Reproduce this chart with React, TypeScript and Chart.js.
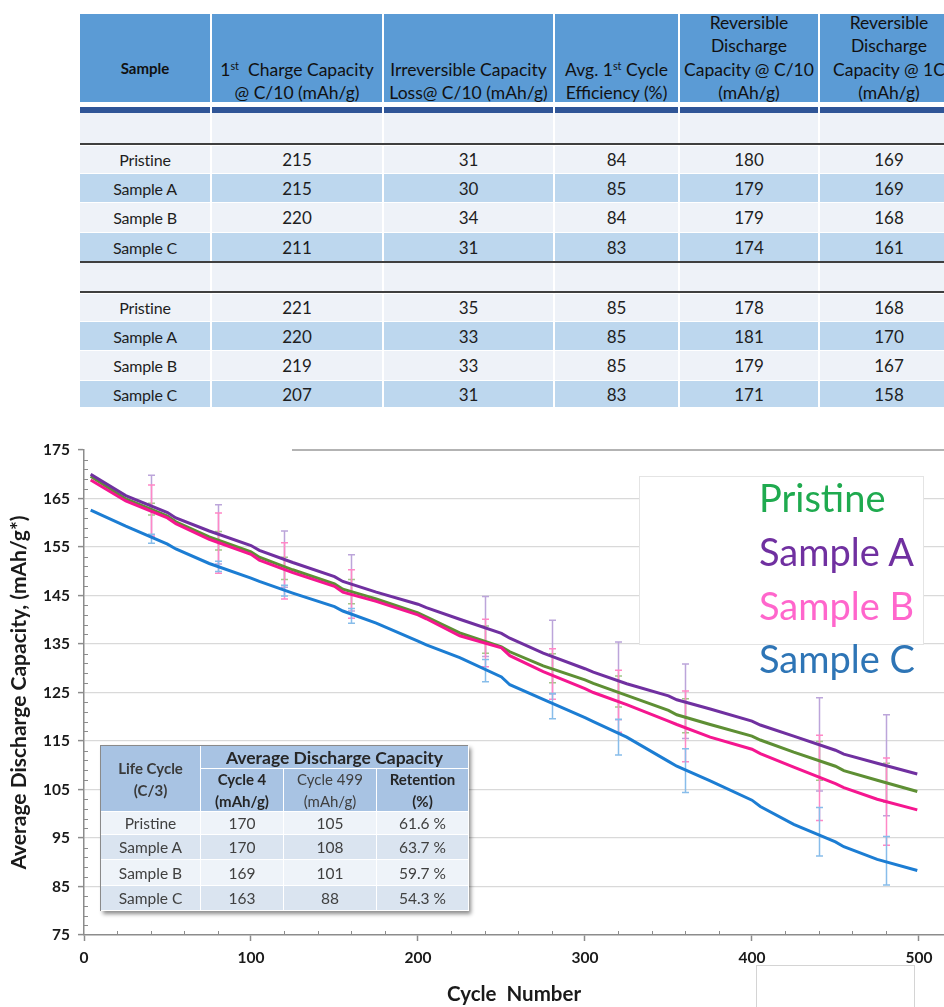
import React, { useEffect, useRef } from "react";
import { Chart, registerables } from "chart.js";

Chart.register(...registerables);

// ---------- Chart data ----------
const cycles = [4, 25, 50, 55, 75, 100, 105, 125, 150, 155, 175, 200, 205, 225, 250, 255, 275, 300, 305, 325, 350, 355, 375, 400, 405, 425, 450, 455, 475, 499];
const pristine = [169.6, 164.9, 161.4, 160.2, 157.1, 154.0, 152.9, 150.3, 147.4, 146.3, 144.3, 141.4, 140.6, 137.3, 134.4, 133.4, 130.5, 127.6, 126.9, 124.4, 121.3, 120.4, 118.4, 116.0, 115.2, 112.7, 109.8, 108.9, 106.9, 104.6];
const sampleA = [170.0, 165.6, 162.1, 161.0, 158.3, 155.3, 154.3, 151.8, 148.9, 147.9, 145.7, 143.2, 142.5, 140.1, 137.2, 136.2, 133.1, 129.9, 129.2, 126.8, 124.3, 123.5, 121.6, 119.1, 118.3, 116.0, 113.1, 112.3, 110.4, 108.2];
const sampleB = [168.8, 164.5, 161.0, 159.8, 156.6, 153.5, 152.3, 149.7, 146.9, 145.7, 143.8, 141.0, 140.2, 136.7, 134.2, 132.6, 129.3, 125.8, 125.0, 122.5, 119.1, 118.4, 115.8, 113.3, 112.4, 109.6, 106.2, 105.4, 103.0, 100.8];
const sampleC = [162.6, 159.3, 155.6, 154.6, 151.6, 148.6, 147.9, 145.5, 142.7, 141.8, 139.3, 135.6, 134.8, 132.2, 128.2, 126.6, 123.6, 119.8, 119.0, 115.8, 110.8, 109.8, 106.8, 102.8, 101.5, 97.8, 94.2, 93.2, 90.6, 88.3];

const errCycles = [40, 80, 120, 160, 240, 280, 320, 360, 440, 480];
const pristineErrMean = [162.8, 156.3, 150.6, 145.8, 135.9, 130.0, 125.2, 120.2, 110.9, 106.4];
const pristineErr = [1.2, 1.9, 2.3, 2.5, 2.8, 3.0, 3.2, 3.5, 4.0, 4.0];
const sampleAErrMean = [163.5, 157.6, 152.5, 147.6, 138.6, 132.3, 127.4, 123.2, 114.3, 110.0];
const sampleAErr = [6.3, 6.1, 5.8, 5.8, 6.2, 7.6, 8.0, 7.7, 9.6, 10.4];
const sampleBErrMean = [162.5, 155.8, 150.1, 145.3, 135.2, 128.8, 123.2, 118.0, 107.4, 102.5];
const sampleBErr = [5.3, 6.2, 5.8, 5.0, 4.9, 5.2, 6.4, 7.3, 8.8, 9.0];
const sampleCErrMean = [156.7, 151.0, 146.0, 140.8, 129.5, 122.2, 115.8, 108.9, 96.3, 90.3];
const sampleCErr = [0.95, 1.05, 1.1, 1.5, 2.3, 2.6, 3.7, 4.5, 5.0, 5.0];

const xTicks = [0, 100, 200, 300, 400, 500];
const yTicks = [75, 85, 95, 105, 115, 125, 135, 145, 155, 165, 175];

const seriesNames = ["Pristine", "Sample A", "Sample B", "Sample C"];
const lineColors = ["#5e8f34", "#7030a0", "#f5168f", "#1c7dd3"];
const errColors = ["#a3c68a", "#bca5da", "#ff88c6", "#88bdea"];
const legendColors = ["#1faa4f", "#7030a0", "#ff66cc", "#2e75b6"];

// ---------- Top table data ----------
const tableSamples = ["Pristine", "Sample A", "Sample B", "Sample C"];
const chargeCap1 = [215, 215, 220, 211];
const irrLoss1 = [31, 30, 34, 31];
const eff1 = [84, 85, 84, 83];
const revC10_1 = [180, 179, 179, 174];
const rev1C_1 = [169, 169, 168, 161];
const chargeCap2 = [221, 220, 219, 207];
const irrLoss2 = [35, 33, 33, 31];
const eff2 = [85, 85, 85, 83];
const revC10_2 = [178, 181, 179, 171];
const rev1C_2 = [168, 170, 167, 158];

const headerLines = [
  ["Sample"],
  ["1{st}\u00a0 Charge Capacity", "@ C/10 (mAh/g)"],
  ["Irreversible Capacity", "Loss@ C/10 (mAh/g)"],
  ["Avg. 1{st} Cycle", "Efficiency (%)"],
  ["Reversible", "Discharge", "Capacity @ C/10", "(mAh/g)"],
  ["Reversible", "Discharge", "Capacity @ 1C", "(mAh/g)"],
];

// ---------- Inner table data ----------
const cycle4 = [170, 170, 169, 163];
const cycle499 = [105, 108, 101, 88];
const retention = ["61.6 %", "63.7 %", "59.7 %", "54.3 %"];

const FONT = "Lato, 'Open Sans', sans-serif";

function renderLine(s: string) {
  const parts = s.split("{st}");
  if (parts.length === 1) return s;
  return (
    <>
      {parts[0]}
      <sup style={{ fontSize: "0.62em", lineHeight: 0, verticalAlign: "0.55em" }}>st</sup>
      {parts[1]}
    </>
  );
}

const colLeft = [0, 132, 304, 475, 600, 740];
const colW = [132, 172, 171, 125, 140, 140];
const LIGHT = "#eef2f8";
const BLUE = "#bdd7ee";

function GapRow({ top, h, bg }: { top: number; h: number; bg: string }) {
  return (
    <>
      {colW.map((w, i) => (
        <div key={i} style={{ position: "absolute", left: colLeft[i], top, width: w - 2, height: h, background: bg }} />
      ))}
    </>
  );
}

function DataRow({ top, h, bg, vals }: { top: number; h: number; bg: string; vals: (string | number)[] }) {
  return (
    <>
      {colW.map((w, i) => (
        <div
          key={i}
          style={{
            position: "absolute",
            left: colLeft[i],
            top,
            width: w - 2,
            height: h,
            background: bg,
            display: "flex",
            alignItems: "center",
            justifyContent: "center",
            fontSize: i === 0 ? 16 : 17,
            color: "#1e1e1e",
            letterSpacing: i === 0 ? -0.2 : 0,
          }}
        >
          {vals[i]}
        </div>
      ))}
    </>
  );
}

function TopTable() {
  const block1Tops = [146, 174, 203, 233];
  const block1H = [27, 28, 29, 28];
  const block2Tops = [294, 322, 351, 381];
  const block2H = [27, 28, 29, 26];
  const bgs = [LIGHT, BLUE, LIGHT, BLUE];
  const row1 = (i: number) => [tableSamples[i], chargeCap1[i], irrLoss1[i], eff1[i], revC10_1[i], rev1C_1[i]];
  const row2 = (i: number) => [tableSamples[i], chargeCap2[i], irrLoss2[i], eff2[i], revC10_2[i], rev1C_2[i]];
  return (
    <div style={{ position: "absolute", left: 80, top: 0, width: 880, height: 410, fontFamily: FONT }}>
      {colW.map((w, i) => (
        <div
          key={i}
          style={{
            position: "absolute",
            left: colLeft[i],
            top: 14,
            width: w - 2,
            height: 88,
            background: "#5b9bd5",
            color: "#111111",
          }}
        >
          <div
            style={{
              position: "absolute",
              left: 0,
              right: 0,
              bottom: i === 0 ? 21 : -3,
              textAlign: "center",
              lineHeight: "23.6px",
              fontSize: i === 0 ? 15 : 17.5,
              fontWeight: i === 0 ? 700 : 400,
              whiteSpace: "nowrap",
            }}
          >
            {headerLines[i].map((l, j) => (
              <div key={j}>{renderLine(l)}</div>
            ))}
          </div>
        </div>
      ))}
      <GapRow top={107} h={6} bg="#2f5597" />
      <GapRow top={113} h={30} bg={LIGHT} />
      <div style={{ position: "absolute", left: 0, top: 143, width: 880, height: 2, background: "#3f3f3f" }} />
      {block1Tops.map((t, i) => (
        <DataRow key={"a" + i} top={t} h={block1H[i]} bg={bgs[i]} vals={row1(i)} />
      ))}
      <div style={{ position: "absolute", left: 0, top: 261, width: 880, height: 2, background: "#3f3f3f" }} />
      <GapRow top={263} h={28} bg={LIGHT} />
      <div style={{ position: "absolute", left: 0, top: 291, width: 880, height: 2, background: "#3f3f3f" }} />
      {block2Tops.map((t, i) => (
        <DataRow key={"b" + i} top={t} h={block2H[i]} bg={bgs[i]} vals={row2(i)} />
      ))}
    </div>
  );
}

function InnerTable() {
  const hdrBg = "#a8c3e3";
  const rowBgs = ["#eef3f9", "#dae4f0", "#eef3f9", "#dae4f0"];
  const rowH = [23, 25, 26, 25];
  const colWs = [100, 83, 93, 92];
  const cell = (extra: React.CSSProperties): React.CSSProperties => ({
    display: "flex",
    flexDirection: "column",
    alignItems: "center",
    justifyContent: "center",
    boxSizing: "border-box",
    borderRight: "1px solid #ffffff",
    borderBottom: "1px solid #ffffff",
    ...extra,
  });
  return (
    <div
      style={{
        position: "absolute",
        left: 100,
        top: 745,
        width: 368,
        height: 166,
        boxSizing: "border-box",
        border: "1px solid #8a8a8a",
        boxShadow: "3px 3px 4px rgba(0,0,0,0.45)",
        fontFamily: FONT,
        display: "grid",
        gridTemplateColumns: colWs.map((w) => w + "px").join(" "),
        gridTemplateRows: ["23px", "43px", ...rowH.map((h) => h + "px")].join(" "),
        background: "#fff",
      }}
    >
      <div style={cell({ gridRow: "1 / 3", gridColumn: "1", background: hdrBg, color: "#3a3a3a", fontWeight: 700, fontSize: 15, lineHeight: "22px" })}>
        <div>Life Cycle</div>
        <div>(C/3)</div>
      </div>
      <div style={cell({ gridRow: "1", gridColumn: "2 / 5", background: hdrBg, color: "#262626", fontWeight: 700, fontSize: 17.5 })}>
        Average Discharge Capacity
      </div>
      <div style={cell({ gridRow: "2", gridColumn: "2", background: hdrBg, color: "#262626", fontWeight: 700, fontSize: 15, lineHeight: "22px" })}>
        <div>Cycle 4</div>
        <div>(mAh/g)</div>
      </div>
      <div style={cell({ gridRow: "2", gridColumn: "3", background: hdrBg, color: "#404040", fontWeight: 400, fontSize: 15, lineHeight: "22px" })}>
        <div>Cycle 499</div>
        <div>(mAh/g)</div>
      </div>
      <div style={cell({ gridRow: "2", gridColumn: "4", background: hdrBg, color: "#262626", fontWeight: 700, fontSize: 15, lineHeight: "22px" })}>
        <div>Retention</div>
        <div>(%)</div>
      </div>
      {tableSamples.map((s, i) => (
        <React.Fragment key={i}>
          {[s, cycle4[i], cycle499[i], retention[i]].map((v, j) => (
            <div key={j} style={cell({ background: rowBgs[i], color: "#404040", fontSize: 15.5 })}>
              {v}
            </div>
          ))}
        </React.Fragment>
      ))}
    </div>
  );
}

function LifeChart() {
  const ref = useRef<HTMLCanvasElement>(null);
  useEffect(() => {
    if (!ref.current) return;
    const seriesY = [pristine, sampleA, sampleB, sampleC];
    const errMeans = [pristineErrMean, sampleAErrMean, sampleBErrMean, sampleCErrMean];
    const errs = [pristineErr, sampleAErr, sampleBErr, sampleCErr];
    const drawOrder = [2, 0, 1, 3];
    const errDrawSeq = [1, 0, 2, 3];

    const errorBars = {
      id: "errorBars",
      beforeDatasetsDraw(chart: any) {
        const { ctx, scales } = chart;
        const x = scales.x;
        const y = scales.y;
        ctx.save();
        ctx.lineWidth = 1.5;
        errDrawSeq.forEach((s) => {
          ctx.strokeStyle = errColors[s];
          errCycles.forEach((c, i) => {
            const px = Math.round(x.getPixelForValue(c)) + 0.5;
            const top = y.getPixelForValue(errMeans[s][i] + errs[s][i]);
            const bot = y.getPixelForValue(errMeans[s][i] - errs[s][i]);
            ctx.beginPath();
            ctx.moveTo(px, top);
            ctx.lineTo(px, bot);
            ctx.moveTo(px - 3.5, top);
            ctx.lineTo(px + 3.5, top);
            ctx.moveTo(px - 3.5, bot);
            ctx.lineTo(px + 3.5, bot);
            ctx.stroke();
          });
        });
        ctx.restore();
      },
    };

    const minorTicks = {
      id: "minorTicks",
      afterDraw(chart: any) {
        const { ctx, scales, chartArea } = chart;
        const x = scales.x;
        const y = scales.y;
        ctx.save();
        ctx.strokeStyle = "#8c8c8c";
        ctx.lineWidth = 1;
        for (let v = 75; v <= 175; v += 2) {
          if ((v - 75) % 10 === 0) continue;
          const py = Math.round(y.getPixelForValue(v)) + 0.5;
          ctx.beginPath();
          ctx.moveTo(chartArea.left, py);
          ctx.lineTo(chartArea.left + 4, py);
          ctx.stroke();
        }
        for (let v = 20; v <= 500; v += 20) {
          if (v % 100 === 0) continue;
          const px = Math.round(x.getPixelForValue(v)) + 0.5;
          ctx.beginPath();
          ctx.moveTo(px, chartArea.bottom);
          ctx.lineTo(px, chartArea.bottom - 4);
          ctx.stroke();
        }
        ctx.restore();
      },
    };

    const chart = new Chart(ref.current, {
      type: "line",
      data: {
        datasets: seriesNames.map((name, s) => ({
          label: name,
          data: cycles.map((c, i) => ({ x: c, y: seriesY[s][i] })),
          borderColor: lineColors[s],
          backgroundColor: lineColors[s],
          borderWidth: 3,
          pointRadius: 0,
          tension: 0,
          fill: false,
          order: drawOrder[s],
        })),
      },
      options: {
        animation: false,
        responsive: false,
        maintainAspectRatio: false,
        layout: { padding: { top: 20, left: 0, right: 0, bottom: 0 } },
        plugins: { legend: { display: false }, tooltip: { enabled: false } },
        scales: {
          x: {
            type: "linear",
            min: 0,
            max: 515,
            afterBuildTicks: (s: any) => {
              s.ticks = xTicks.map((v) => ({ value: v }));
            },
            afterFit: (s: any) => {
              s.height = 72;
            },
            border: { color: "#8c8c8c", width: 1.5 },
            grid: { drawOnChartArea: false, drawTicks: true, tickLength: 6, tickColor: "#8c8c8c", tickWidth: 1.5 },
            ticks: { padding: 8, color: "#1a1a1a", font: { family: FONT, weight: "bold", size: 15.5 }, maxRotation: 0, autoSkip: false },
            title: {
              display: true,
              text: "Cycle  Number",
              color: "#1a1a1a",
              font: { family: FONT, weight: "bold", size: 20.5 },
              padding: { top: 0, bottom: 0 },
            },
          },
          y: {
            type: "linear",
            min: 75,
            max: 175,
            afterBuildTicks: (s: any) => {
              s.ticks = yTicks.map((v) => ({ value: v }));
            },
            afterFit: (s: any) => {
              s.width = 84;
            },
            border: { color: "#8c8c8c", width: 1.5 },
            grid: {
              color: (c: any) => (c.tick && (c.tick.value === 175 || c.tick.value === 75) ? "rgba(0,0,0,0)" : "#d9d9d9"),
              lineWidth: 1.2,
              drawTicks: true,
              tickLength: 6,
              tickColor: "#8c8c8c",
              tickWidth: 1.5,
            },
            ticks: { padding: 8, color: "#1a1a1a", font: { family: FONT, weight: "bold", size: 15.5 }, autoSkip: false },
            title: {
              display: true,
              text: "Average Discharge Capacity, (mAh/g*)",
              color: "#1a1a1a",
              font: { family: FONT, weight: "bold", size: 21 },
              padding: { top: 7, bottom: 0 },
            },
          },
        },
      },
      plugins: [errorBars, minorTicks],
    } as any);
    return () => chart.destroy();
  }, []);
  return (
    <canvas
      ref={ref}
      width={944}
      height={577}
      style={{ position: "absolute", left: 0, top: 430, width: 944, height: 577 }}
    />
  );
}

function Legend() {
  const centers = [497, 551, 605, 658];
  return (
    <>
      <div
        style={{
          position: "absolute",
          left: 639,
          top: 476,
          width: 285,
          height: 169,
          boxSizing: "border-box",
          background: "#ffffff",
          border: "1px solid #e4e4e4",
        }}
      />
      {seriesNames.map((n, i) => (
        <div
          key={n}
          style={{
            position: "absolute",
            left: 759,
            top: centers[i] - 24,
            height: 48,
            lineHeight: "48px",
            fontSize: 38,
            fontFamily: FONT,
            color: legendColors[i],
            whiteSpace: "nowrap",
          }}
        >
          {n}
        </div>
      ))}
    </>
  );
}

export default function App() {
  useEffect(() => {
    document.body.style.margin = "0";
  }, []);
  return (
    <div
      style={{
        position: "absolute",
        left: 0,
        top: 0,
        width: 944,
        height: 1007,
        overflow: "hidden",
        background: "#ffffff",
        fontFamily: FONT,
      }}
    >
      <TopTable />
      <LifeChart />
      <div style={{ position: "absolute", left: 292, top: 449, width: 652, height: 2, background: "#b3b3b3" }} />
      <Legend />
      <InnerTable />
      <div
        style={{
          position: "absolute",
          left: 756,
          top: 965,
          width: 159,
          height: 60,
          boxSizing: "border-box",
          border: "1px solid #d4d4d4",
          background: "#fff",
        }}
      />
    </div>
  );
}
